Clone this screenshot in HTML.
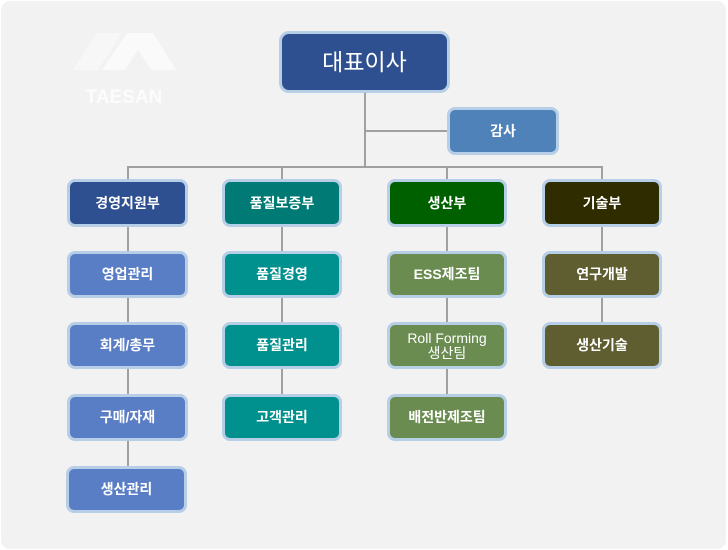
<!DOCTYPE html>
<html><head><meta charset="utf-8"><style>
body{margin:0;width:728px;height:550px;background:#fff;position:relative;overflow:hidden;font-family:"Liberation Sans","Noto Sans CJK KR",sans-serif}
.panel{position:absolute;left:1px;top:1px;width:725px;height:548px;background:#f2f2f2;border-radius:9px}
.b{position:absolute;box-sizing:border-box;border:3px solid #b6cfe6;border-radius:8px;color:#fff;display:flex;align-items:center;justify-content:center;text-align:center;font-size:14px;font-weight:bold;line-height:15px}
.l{position:absolute;background:#a0a0a0}
</style></head><body>
<div class="panel"></div>
<svg style="position:absolute;left:0;top:0" width="728" height="550">
<polygon points="73,70 97,33 122,33 98,70" fill="#f7f7f7"/>
<polygon points="102,70 127,33 153,33 176,70 152,70 138,50 125,70" fill="#fafafa"/>
<text x="124" y="103" text-anchor="middle" font-family="Liberation Sans, sans-serif" font-weight="bold" font-size="19" fill="#fcfcfc">TAESAN</text>
</svg>
<div class="l" style="left:364px;top:92px;width:2px;height:75px"></div>
<div class="l" style="left:365px;top:130px;width:84px;height:2px"></div>
<div class="l" style="left:127px;top:166px;width:475px;height:2px"></div>
<div class="l" style="left:127px;top:166px;width:2px;height:324px"></div>
<div class="l" style="left:281px;top:166px;width:2px;height:250px"></div>
<div class="l" style="left:446px;top:166px;width:2px;height:250px"></div>
<div class="l" style="left:601px;top:166px;width:2px;height:180px"></div>

<div class="b" style="left:279px;top:31px;width:171px;height:62px;background:#2e5090;font-size:23px;font-weight:normal;border-radius:10px">대표이사</div>
<div class="b" style="left:447px;top:107px;width:112px;height:48px;background:#4f82b8">감사</div>

<div class="b" style="left:67px;top:179px;width:121px;height:48px;background:#2e5090">경영지원부</div>
<div class="b" style="left:222px;top:179px;width:120px;height:48px;background:#007a75">품질보증부</div>
<div class="b" style="left:387px;top:179px;width:120px;height:48px;background:#006000">생산부</div>
<div class="b" style="left:542px;top:179px;width:120px;height:48px;background:#2f2d00">기술부</div>

<div class="b" style="left:67px;top:251px;width:121px;height:47px;background:#5a7ec5">영업관리</div>
<div class="b" style="left:67px;top:322px;width:121px;height:47px;background:#5a7ec5">회계/총무</div>
<div class="b" style="left:67px;top:394px;width:121px;height:47px;background:#5a7ec5">구매/자재</div>
<div class="b" style="left:66px;top:466px;width:121px;height:47px;background:#5a7ec5">생산관리</div>

<div class="b" style="left:222px;top:251px;width:120px;height:47px;background:#00918e">품질경영</div>
<div class="b" style="left:222px;top:322px;width:120px;height:47px;background:#00918e">품질관리</div>
<div class="b" style="left:222px;top:394px;width:120px;height:47px;background:#00918e">고객관리</div>

<div class="b" style="left:387px;top:251px;width:120px;height:47px;background:#6a8c50">ESS제조팀</div>
<div class="b" style="left:387px;top:322px;width:120px;height:47px;background:#6a8c50;font-weight:normal">Roll Forming<br>생산팀</div>
<div class="b" style="left:387px;top:394px;width:120px;height:47px;background:#6a8c50">배전반제조팀</div>

<div class="b" style="left:542px;top:251px;width:120px;height:47px;background:#5f5e30">연구개발</div>
<div class="b" style="left:542px;top:322px;width:120px;height:47px;background:#5f5e30">생산기술</div>
</body></html>
